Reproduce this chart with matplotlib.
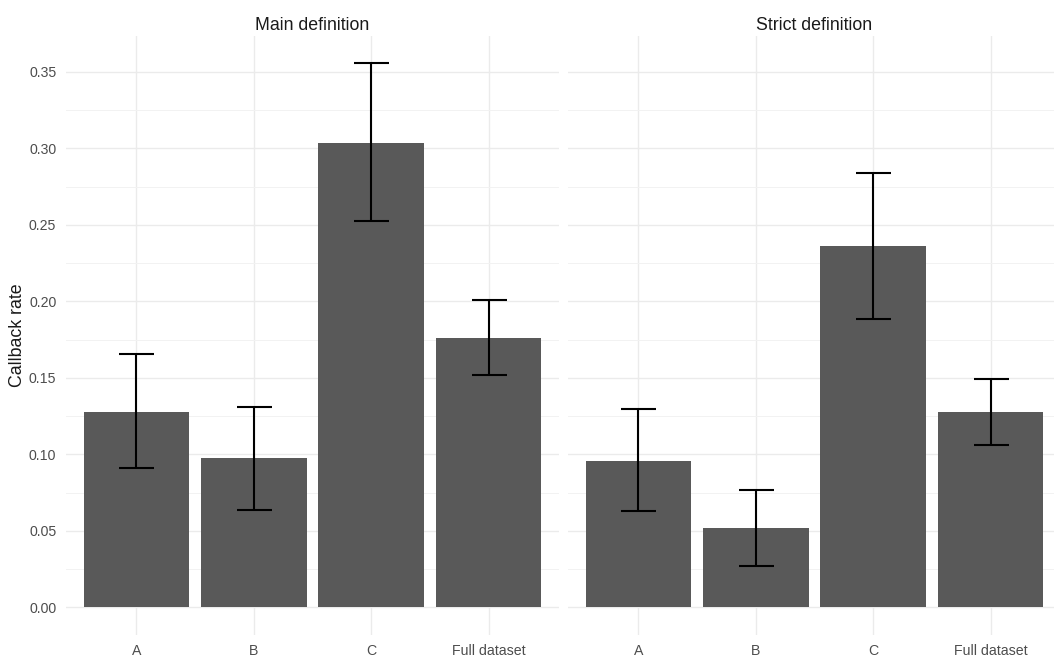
import numpy as np
import matplotlib
matplotlib.use("Agg")
import matplotlib.pyplot as plt
from matplotlib.ticker import MultipleLocator, FormatStrFormatter

plt.rcParams['font.family'] = ['Liberation Sans', 'DejaVu Sans']

# data
categories = ["A", "B", "C", "Full dataset"]
panel_titles = ["Main definition", "Strict definition"]

main_rate = [0.1277, 0.0974, 0.3037, 0.1758]
main_lower = [0.0908, 0.0638, 0.2525, 0.1516]
main_upper = [0.1656, 0.1307, 0.3559, 0.2008]

strict_rate = [0.0958, 0.0516, 0.2361, 0.1274]
strict_lower = [0.0631, 0.0268, 0.1886, 0.1061]
strict_upper = [0.1294, 0.0765, 0.2837, 0.1492]

panels = [
    (main_rate, main_lower, main_upper),
    (strict_rate, strict_lower, strict_upper),
]

W, H = 1054, 661
fig = plt.figure(figsize=(W / 100, H / 100), dpi=100)

ymax = max(max(main_upper), max(strict_upper))
pad = 0.05 * ymax
x = np.arange(len(categories))

# panel positions in pixels (left, right)
lefts = [66, 568]
pw = 493
bottom_px, top_px = 634.5, 35.5

for i, (rate, lo, hi) in enumerate(panels):
    ax = fig.add_axes([lefts[i] / W, 1 - bottom_px / H, pw / W, (bottom_px - top_px) / H])
    ax.set_facecolor("white")
    ax.bar(x, rate, width=0.9, color="#595959", zorder=2)
    rate = np.array(rate)
    err = [rate - np.array(lo), np.array(hi) - rate]
    ax.errorbar(x, rate, yerr=err, fmt="none", ecolor="black",
                elinewidth=1.5, capsize=12.6, capthick=1.5, zorder=3)
    ax.set_xlim(-0.6, len(categories) - 0.4)
    ax.set_ylim(-pad, ymax + pad)
    ax.yaxis.set_major_locator(MultipleLocator(0.05))
    ax.yaxis.set_minor_locator(MultipleLocator(0.025))
    ax.yaxis.set_major_formatter(FormatStrFormatter("%.2f"))
    ax.set_xticks(x)
    ax.set_xticklabels(categories)
    ax.grid(which="major", color="#EBEBEB", linewidth=1.0, zorder=0)
    ax.grid(which="minor", axis="y", color="#F2F2F2", linewidth=0.7, zorder=0)
    ax.set_axisbelow(True)
    for s in ax.spines.values():
        s.set_visible(False)
    ax.tick_params(axis="both", which="both", length=0, labelsize=10.2,
                   labelcolor="#4D4D4D")
    ax.tick_params(axis="x", pad=6.5)
    ax.tick_params(axis="y", pad=7)
    if i > 0:
        ax.tick_params(axis="y", labelleft=False)
    fig.text((lefts[i] + pw / 2) / W, 1 - 30 / H, panel_titles[i],
             ha="center", va="baseline", fontsize=12.8, color="#1A1A1A")

fig.text(18 / W, 1 - 335 / H, "Callback rate", rotation=90,
         ha="center", va="center", fontsize=12.8, color="#1A1A1A")

fig.savefig("out.png", dpi=100, facecolor="white")
